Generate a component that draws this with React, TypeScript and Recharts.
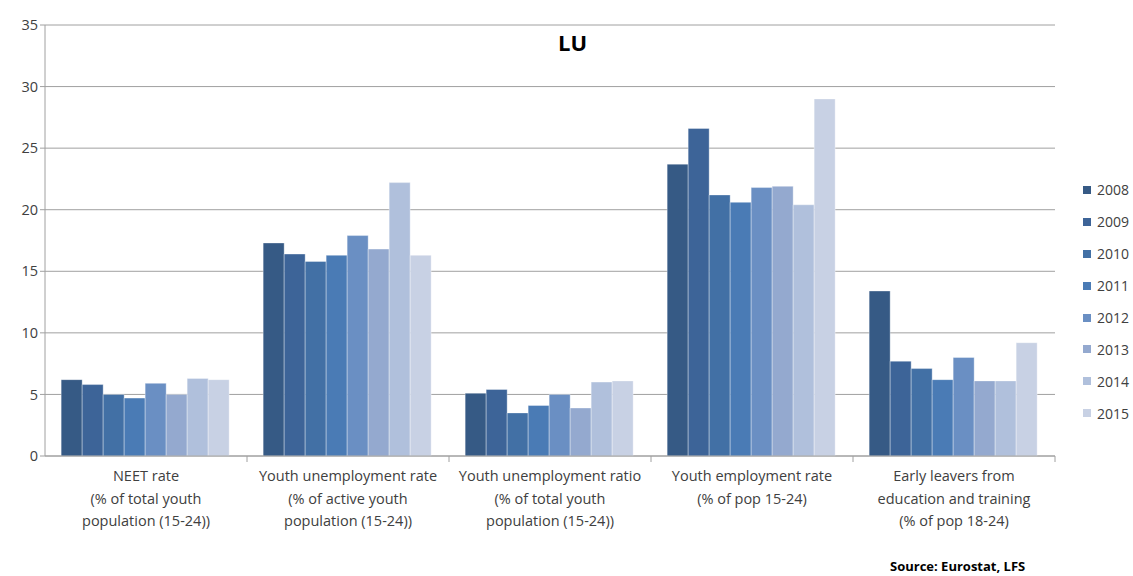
import { BarChart, Bar, XAxis, YAxis, CartesianGrid } from 'recharts';

const categories = [
  'NEET rate\n(% of total youth\npopulation (15-24))',
  'Youth unemployment rate\n(% of active youth\npopulation (15-24))',
  'Youth unemployment ratio\n(% of total youth\npopulation (15-24))',
  'Youth employment rate\n(% of pop 15-24)',
  'Early leavers from\neducation and training\n(% of pop 18-24)',
];

const years = ['2008', '2009', '2010', '2011', '2012', '2013', '2014', '2015'];

const v2008 = [6.2, 17.3, 5.1, 23.7, 13.4];
const v2009 = [5.8, 16.4, 5.4, 26.6, 7.7];
const v2010 = [5.0, 15.8, 3.5, 21.2, 7.1];
const v2011 = [4.7, 16.3, 4.1, 20.6, 6.2];
const v2012 = [5.9, 17.9, 5.0, 21.8, 8.0];
const v2013 = [5.0, 16.8, 3.9, 21.9, 6.1];
const v2014 = [6.3, 22.2, 6.0, 20.4, 6.1];
const v2015 = [6.2, 16.3, 6.1, 29.0, 9.2];

const yTicks = [0, 5, 10, 15, 20, 25, 30, 35];

const colors = ['#365a85', '#3d6498', '#4270a5', '#4a7bb5', '#6a8fc3', '#94a9cf', '#b0c0dc', '#c8d1e4'];

const seriesValues = [v2008, v2009, v2010, v2011, v2012, v2013, v2014, v2015];

const data = categories.map((name, i) => {
  const row: Record<string, string | number> = { name };
  years.forEach((y, k) => {
    row[y] = seriesValues[k][i];
  });
  return row;
});

const FONT = '"Open Sans", "DejaVu Sans", sans-serif';

function CategoryTick(props: any) {
  const { x, y, payload } = props;
  const lines = String(payload.value).split('\n');
  return (
    <g>
      <line x1={x + 101} x2={x + 101} y1={y - 8} y2={y - 2} stroke="#a0a0a0" />
      {lines.map((line, i) => (
        <text
          key={i}
          x={x}
          y={y + 17 + i * 22.5}
          textAnchor="middle"
          fill="#404040"
          fontSize={14.5}
          fontFamily={FONT}
        >
          {line}
        </text>
      ))}
    </g>
  );
}

function YearLegend() {
  return (
    <div style={{ fontFamily: FONT, fontSize: 14, color: '#404040', whiteSpace: 'nowrap' }}>
      {years.map((y, i) => (
        <div key={y} style={{ display: 'flex', alignItems: 'center', height: 31.9 }}>
          <span style={{ width: 8, height: 8, background: colors[i], marginRight: 6, display: 'inline-block' }} />
          <span>{y}</span>
        </div>
      ))}
    </div>
  );
}

export default function App() {
  return (
    <div style={{ position: 'relative', width: 1133, height: 576, background: '#fff' }}>
      <style>{'body { margin: 0; }'}</style>
      <BarChart
        width={1133}
        height={576}
        data={data}
        margin={{ top: 25, right: 78, left: 0, bottom: 40 }}
        barCategoryGap="8%"
        barGap={0}
      >
        <CartesianGrid vertical={false} stroke="#a0a0a0" />
        <XAxis
          dataKey="name"
          interval={0}
          height={80}
          tick={<CategoryTick />}
          tickLine={false}
          axisLine={{ stroke: '#a0a0a0' }}
        />
        <YAxis
          width={45}
          domain={[0, 35]}
          ticks={yTicks}
          interval={0}
          axisLine={{ stroke: '#a0a0a0' }}
          tickLine={{ stroke: '#a0a0a0' }}
          tickSize={5}
          tick={{ fill: '#404040', fontSize: 14.5, fontFamily: FONT }}
        />
        {years.map((y, i) => (
          <Bar
            key={y}
            dataKey={y}
            fill={colors[i]}
            stroke="#ffffff"
            strokeOpacity={0.35}
            isAnimationActive={false}
          />
        ))}
      </BarChart>
      <div style={{ position: 'absolute', left: 1083, top: 174, width: 50 }}>
        <YearLegend />
      </div>
      <div
        style={{
          position: 'absolute',
          left: 558,
          top: 27,
          fontFamily: FONT,
          fontWeight: 'bold',
          fontSize: 22,
          color: '#000',
        }}
      >
        LU
      </div>
      <div
        style={{
          position: 'absolute',
          left: 890,
          top: 557,
          fontFamily: FONT,
          fontWeight: 'bold',
          fontSize: 13,
          color: '#000',
        }}
      >
        Source: Eurostat, LFS
      </div>
    </div>
  );
}
